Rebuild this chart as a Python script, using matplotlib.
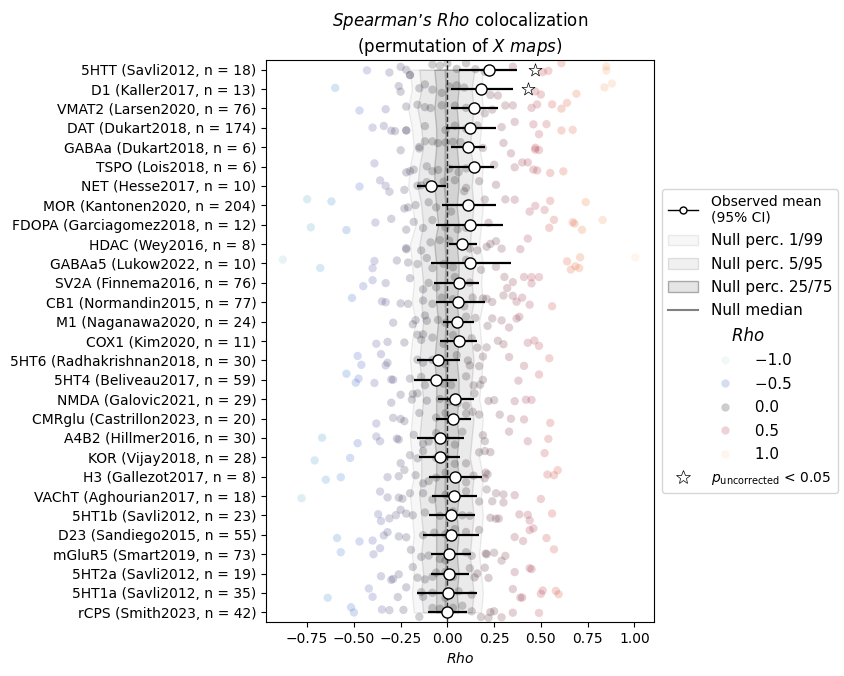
import numpy as np
import pandas as pd
import matplotlib
matplotlib.use("Agg")
import matplotlib.pyplot as plt
import seaborn as sns
from matplotlib.lines import Line2D
from matplotlib.patches import Patch
from matplotlib.legend_handler import HandlerLine2D

maps = [
    "5HTT (Savli2012, n = 18)", "D1 (Kaller2017, n = 13)", "VMAT2 (Larsen2020, n = 76)",
    "DAT (Dukart2018, n = 174)", "GABAa (Dukart2018, n = 6)", "TSPO (Lois2018, n = 6)",
    "NET (Hesse2017, n = 10)", "MOR (Kantonen2020, n = 204)", "FDOPA (Garciagomez2018, n = 12)",
    "HDAC (Wey2016, n = 8)", "GABAa5 (Lukow2022, n = 10)", "SV2A (Finnema2016, n = 76)",
    "CB1 (Normandin2015, n = 77)", "M1 (Naganawa2020, n = 24)", "COX1 (Kim2020, n = 11)",
    "5HT6 (Radhakrishnan2018, n = 30)", "5HT4 (Beliveau2017, n = 59)", "NMDA (Galovic2021, n = 29)",
    "CMRglu (Castrillon2023, n = 20)", "A4B2 (Hillmer2016, n = 30)", "KOR (Vijay2018, n = 28)",
    "H3 (Gallezot2017, n = 8)", "VAChT (Aghourian2017, n = 18)", "5HT1b (Savli2012, n = 23)",
    "D23 (Sandiego2015, n = 55)", "mGluR5 (Smart2019, n = 73)", "5HT2a (Savli2012, n = 19)",
    "5HT1a (Savli2012, n = 35)", "rCPS (Smith2023, n = 42)",
]

# Rho of each X map per reference map
rho_5htt = [-0.43, -0.31, -0.25, -0.22, -0.20, -0.20, -0.08, -0.04, 0.00, 0.05, 0.10, 0.15, 0.20, 0.35, 0.51, 0.54, 0.61, 0.85, 0.85]
rho_d1 = [-0.60, -0.26, -0.25, -0.15, -0.12, -0.08, -0.03, 0.01, 0.05, 0.09, 0.23, 0.27, 0.47, 0.50, 0.69, 0.84, 0.88]
rho_vmat2 = [-0.47, -0.33, -0.22, -0.16, -0.12, -0.09, -0.03, 0.04, 0.10, 0.20, 0.24, 0.31, 0.35, 0.45, 0.48, 0.56, 0.61, 0.64]
rho_dat = [-0.40, -0.34, -0.30, -0.28, -0.22, -0.22, -0.12, -0.01, 0.04, 0.10, 0.16, 0.29, 0.36, 0.46, 0.49, 0.53, 0.61, 0.67]
rho_gabaa = [-0.25, -0.15, -0.15, -0.12, -0.08, -0.05, -0.01, 0.03, 0.07, 0.19, 0.30, 0.34, 0.47, 0.47, 0.49]
rho_tspo = [-0.39, -0.22, -0.20, -0.18, -0.11, -0.08, -0.05, 0.01, 0.06, 0.10, 0.25, 0.36, 0.40, 0.43, 0.46, 0.48, 0.55, 0.62]
rho_net = [-0.47, -0.36, -0.33, -0.31, -0.23, -0.16, -0.14, -0.11, -0.02, 0.04, 0.09, 0.10, 0.17, 0.26]
rho_mor = [-0.75, -0.62, -0.23, -0.21, -0.17, -0.10, -0.06, 0.02, 0.10, 0.20, 0.31, 0.36, 0.44, 0.47, 0.52, 0.55, 0.74]
rho_fdopa = [-0.73, -0.54, -0.385, -0.30, -0.22, -0.18, -0.13, -0.08, -0.01, 0.055, 0.10, 0.22, 0.545, 0.57, 0.67, 0.68, 0.72, 0.83]
rho_hdac = [-0.22, -0.22, -0.14, -0.09, -0.04, 0.01, 0.12, 0.16, 0.21, 0.23, 0.26, 0.29, 0.39, 0.43]
rho_gabaa5 = [-0.88, -0.68, -0.40, -0.39, -0.27, -0.21, -0.16, -0.11, -0.08, -0.02, 0.03, 0.10, 0.18, 0.26, 0.64, 0.66, 0.685, 0.705, 0.71, 1.005]
rho_sv2a = [-0.45, -0.40, -0.33, -0.20, -0.13, -0.10, -0.06, 0.04, 0.12, 0.305, 0.32, 0.35, 0.41, 0.45, 0.45, 0.49]
rho_cb1 = [-0.51, -0.35, -0.33, -0.25, -0.21, -0.13, -0.08, -0.03, 0.03, 0.09, 0.135, 0.19, 0.21, 0.24, 0.30, 0.35, 0.37, 0.40, 0.44, 0.56]
rho_m1 = [-0.29, -0.185, -0.17, -0.12, -0.11, -0.05, -0.01, 0.10, 0.15, 0.215, 0.24, 0.29, 0.33, 0.37, 0.385]
rho_cox1 = [-0.38, -0.32, -0.23, -0.16, -0.14, -0.13, -0.08, -0.02, 0.03, 0.13, 0.16, 0.21, 0.27, 0.30, 0.43, 0.465, 0.49]
rho_5ht6 = [-0.48, -0.46, -0.355, -0.33, -0.32, -0.16, -0.13, -0.08, -0.01, 0.05, 0.11, 0.12, 0.17, 0.19, 0.33, 0.41, 0.545]
rho_5ht4 = [-0.54, -0.49, -0.475, -0.39, -0.30, -0.29, -0.20, -0.14, -0.12, -0.06, -0.02, 0.02, 0.10, 0.14, 0.175, 0.19, 0.38, 0.49]
rho_nmda = [-0.30, -0.25, -0.19, -0.185, -0.16, -0.11, -0.04, 0.01, 0.055, 0.10, 0.145, 0.22, 0.25, 0.36, 0.42, 0.45]
rho_cmrglu = [-0.38, -0.29, -0.25, -0.23, -0.15, -0.06, -0.01, 0.10, 0.135, 0.17, 0.28, 0.34, 0.41, 0.55]
rho_a4b2 = [-0.67, -0.48, -0.38, -0.36, -0.27, -0.26, -0.18, -0.13, -0.10, -0.06, -0.01, 0.04, 0.08, 0.19, 0.20, 0.33, 0.43, 0.54]
rho_kor = [-0.71, -0.52, -0.25, -0.20, -0.16, -0.13, -0.06, -0.01, 0.04, 0.10, 0.17, 0.20, 0.23, 0.52]
rho_h3 = [-0.65, -0.57, -0.32, -0.26, -0.23, -0.17, -0.13, -0.10, -0.06, -0.01, 0.10, 0.14, 0.20, 0.205, 0.215, 0.535, 0.57, 0.59]
rho_vacht = [-0.78, -0.36, -0.32, -0.26, -0.24, -0.20, -0.13, -0.08, -0.01, 0.10, 0.17, 0.21, 0.24, 0.26, 0.30, 0.30, 0.36, 0.50]
rho_5ht1b = [-0.37, -0.355, -0.31, -0.275, -0.25, -0.22, -0.185, -0.12, -0.04, 0.03, 0.08, 0.12, 0.23, 0.26, 0.275, 0.385, 0.43, 0.44, 0.56]
rho_d23 = [-0.59, -0.47, -0.40, -0.34, -0.32, -0.26, -0.22, -0.13, -0.07, -0.01, 0.04, 0.10, 0.17, 0.36, 0.405, 0.44, 0.46, 0.53]
rho_mglur5 = [-0.57, -0.395, -0.36, -0.195, -0.14, -0.10, -0.04, -0.01, 0.10, 0.13, 0.205, 0.21, 0.25, 0.29, 0.31, 0.57]
rho_5ht2a = [-0.355, -0.30, -0.29, -0.26, -0.185, -0.16, -0.12, -0.08, -0.06, -0.01, 0.03, 0.12, 0.145, 0.16, 0.20, 0.22, 0.36, 0.44, 0.45]
rho_5ht1a = [-0.64, -0.42, -0.40, -0.265, -0.22, -0.14, -0.13, -0.08, -0.01, 0.06, 0.13, 0.35, 0.39, 0.40, 0.50, 0.51, 0.58, 0.595]
rho_rcps = [-0.515, -0.50, -0.35, -0.31, -0.235, -0.15, -0.08, -0.04, 0.03, 0.08, 0.13, 0.18, 0.22, 0.23, 0.25, 0.29, 0.35, 0.49]

rho_values = [rho_5htt, rho_d1, rho_vmat2, rho_dat, rho_gabaa, rho_tspo, rho_net, rho_mor,
              rho_fdopa, rho_hdac, rho_gabaa5, rho_sv2a, rho_cb1, rho_m1, rho_cox1, rho_5ht6,
              rho_5ht4, rho_nmda, rho_cmrglu, rho_a4b2, rho_kor, rho_h3, rho_vacht, rho_5ht1b,
              rho_d23, rho_mglur5, rho_5ht2a, rho_5ht1a, rho_rcps]

# observed mean and 95% CI
obs_mean = [0.22, 0.18, 0.14, 0.12, 0.11, 0.14, -0.09, 0.11, 0.12, 0.08, 0.12, 0.06, 0.055, 0.05, 0.06,
            -0.05, -0.06, 0.04, 0.03, -0.04, -0.04, 0.04, 0.035, 0.02, 0.02, 0.01, 0.01, 0.005, 0.0]
ci_low = [0.06, 0.02, 0.02, -0.01, 0.02, 0.01, -0.16, -0.03, -0.06, 0.01, -0.09, -0.07, -0.06, -0.025, -0.04,
          -0.16, -0.18, -0.05, -0.06, -0.16, -0.15, -0.10, -0.08, -0.10, -0.13, -0.09, -0.09, -0.16, -0.105]
ci_high = [0.37, 0.35, 0.27, 0.26, 0.20, 0.25, -0.01, 0.26, 0.30, 0.16, 0.34, 0.17, 0.20, 0.14, 0.16,
           0.07, 0.05, 0.14, 0.125, 0.09, 0.07, 0.185, 0.16, 0.15, 0.17, 0.125, 0.115, 0.16, 0.105]

# null distribution percentiles
null_p01 = [-0.20, -0.19, -0.21, -0.19, -0.18, -0.20, -0.21, -0.19, -0.17, -0.20, -0.19, -0.18, -0.19, -0.17, -0.19,
            -0.20, -0.19, -0.18, -0.19, -0.20, -0.19, -0.18, -0.20, -0.19, -0.18, -0.19, -0.18, -0.19, -0.18]
null_p05 = [-0.15, -0.14, -0.16, -0.14, -0.13, -0.15, -0.16, -0.14, -0.13, -0.15, -0.14, -0.13, -0.14, -0.13, -0.14,
            -0.15, -0.14, -0.13, -0.14, -0.15, -0.14, -0.14, -0.15, -0.14, -0.13, -0.14, -0.13, -0.14, -0.13]
null_p25 = [-0.07, -0.06, -0.07, -0.06, -0.06, -0.07, -0.07, -0.06, -0.05, -0.07, -0.06, -0.06, -0.06, -0.05, -0.06,
            -0.07, -0.06, -0.06, -0.06, -0.07, -0.06, -0.06, -0.07, -0.06, -0.06, -0.06, -0.06, -0.06, -0.06]
null_p50 = [-0.01, -0.005, -0.01, -0.005, -0.01, -0.01, -0.015, -0.005, -0.01, -0.01, -0.005, -0.01, -0.01, -0.005, -0.01,
            -0.01, -0.005, -0.01, -0.01, -0.01, -0.005, -0.01, -0.01, -0.005, -0.01, -0.01, -0.005, -0.01, -0.01]
null_p75 = [0.06, 0.06, 0.05, 0.06, 0.05, 0.06, 0.06, 0.05, 0.06, 0.05, 0.06, 0.06, 0.05, 0.06, 0.06,
            0.05, 0.06, 0.06, 0.05, 0.06, 0.05, 0.06, 0.06, 0.05, 0.06, 0.05, 0.06, 0.05, 0.06]
null_p95 = [0.145, 0.13, 0.14, 0.13, 0.12, 0.14, 0.13, 0.14, 0.13, 0.12, 0.14, 0.13, 0.14, 0.12, 0.13,
            0.14, 0.13, 0.12, 0.14, 0.13, 0.12, 0.14, 0.13, 0.14, 0.13, 0.12, 0.13, 0.14, 0.13]
null_p99 = [0.19, 0.18, 0.19, 0.18, 0.17, 0.19, 0.18, 0.19, 0.18, 0.17, 0.19, 0.18, 0.19, 0.17, 0.18,
            0.19, 0.18, 0.17, 0.19, 0.18, 0.17, 0.19, 0.18, 0.19, 0.18, 0.17, 0.18, 0.19, 0.18]

# maps with p_uncorrected < 0.05 and where the star sits
sig_rows = [0, 1]
star_x = [0.47, 0.43]

legend_ticks = [-1.0, -0.5, 0.0, 0.5, 1.0]

df = pd.DataFrame({
    "map": [m for m, vals in zip(maps, rho_values) for _ in vals],
    "rho": [v for vals in rho_values for v in vals],
})

cmap = sns.color_palette("icefire", as_cmap=True)
norm = plt.Normalize(-1, 1)
pt_alpha = 0.22

fig = plt.figure(figsize=(8.45, 6.76), dpi=100)
ax = fig.add_axes([266 / 845, 1 - 622 / 676, 388 / 845, 562 / 676])

ypos = np.arange(len(maps))

# null bands
ax.fill_betweenx(ypos, null_p01, null_p99, facecolor=(0, 0, 0, 0.03), edgecolor=(0, 0, 0, 0.07), lw=1, zorder=0)
ax.fill_betweenx(ypos, null_p05, null_p95, facecolor=(0, 0, 0, 0.05), edgecolor=(0, 0, 0, 0.1), lw=1, zorder=0)
ax.fill_betweenx(ypos, null_p25, null_p75, facecolor=(0, 0, 0, 0.09), edgecolor=(0, 0, 0, 0.18), lw=1, zorder=0)

np.random.seed(3)
sns.stripplot(data=df, x="rho", y="map", hue="rho", order=maps, palette=cmap, hue_norm=(-1, 1),
              jitter=0.35, size=6, alpha=pt_alpha, linewidth=0, legend=False, ax=ax, zorder=1)

ax.plot(null_p50, ypos, color="gray", lw=1.5, alpha=0.5, zorder=2)
ax.axvline(0, color="k", ls="--", lw=1, alpha=0.8, zorder=2)

xerr = [np.array(obs_mean) - np.array(ci_low), np.array(ci_high) - np.array(obs_mean)]
ax.errorbar(obs_mean, ypos, xerr=xerr, fmt="o", color="k", ecolor="k", elinewidth=1.6,
            markerfacecolor="white", markeredgecolor="k", markersize=8, markeredgewidth=1, zorder=4)

ax.scatter(star_x, [ypos[r] for r in sig_rows], marker="*", s=95, facecolor="white",
           edgecolor="k", linewidth=0.5, zorder=5)

ax.set_xlim(-0.97, 1.105)
ax.set_ylim(len(maps) - 0.5, -0.5)
ax.set_xticks([-0.75, -0.5, -0.25, 0, 0.25, 0.5, 0.75, 1.0])
ax.set_xlabel("$\\it{Rho}$", fontsize=10)
ax.set_ylabel("")
ax.tick_params(labelsize=10)
ax.set_title("$\\it{Spearman\u2019s\\ Rho}$ colocalization\n(permutation of $\\it{X\\ maps}$)", fontsize=12)

# legend
h_mean = Line2D([0], [0], color="k", lw=1, marker="o", markersize=5, markerfacecolor="white", markeredgecolor="k")
h_p1 = Patch(facecolor=(0, 0, 0, 0.03), edgecolor=(0, 0, 0, 0.07))
h_p5 = Patch(facecolor=(0, 0, 0, 0.06), edgecolor=(0, 0, 0, 0.1))
h_p25 = Patch(facecolor=(0, 0, 0, 0.1), edgecolor=(0, 0, 0, 0.3))
h_med = Line2D([0], [0], color="gray", lw=1.5)
h_title = Line2D([], [], linestyle="none")
h_cols = [Line2D([0], [0], linestyle="none", marker="o", markersize=6, markeredgewidth=0,
                 markerfacecolor=cmap(norm(v)), alpha=pt_alpha) for v in legend_ticks]
h_star = Line2D([0], [0], linestyle="none", marker="*", markersize=10, markerfacecolor="white",
                markeredgecolor="k", markeredgewidth=0.5)

handles = [h_mean, h_p1, h_p5, h_p25, h_med, h_title] + h_cols + [h_star]
labels = ["Observed mean\n(95% CI)", "Null perc. 1/99", "Null perc. 5/95", "Null perc. 25/75",
          "Null median", "    Rho"] + ["         " + f"{v:.1f}".replace("-", "\u2212") for v in legend_ticks] + \
         ["$p_{\\mathrm{uncorrected}}$ < 0.05"]
hmap = {h: HandlerLine2D(numpoints=1, xpad=5.5) for h in h_cols}
leg = ax.legend(handles, labels, loc="center left", bbox_to_anchor=(1.0, 0.5), fontsize=11,
                labelspacing=0.55, handler_map=hmap)
texts = leg.get_texts()
texts[0].set_fontsize(10)
texts[5].set_fontstyle("italic")
texts[5].set_fontsize(12)
texts[-1].set_fontsize(10)

fig.savefig("out.png", dpi=100)
